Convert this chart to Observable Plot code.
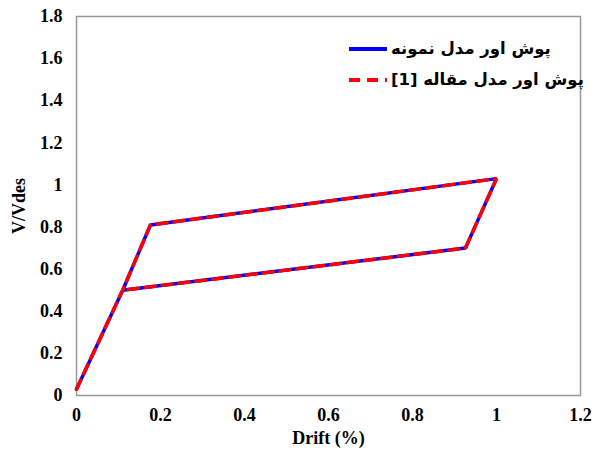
<!DOCTYPE html>
<html>
<head>
<meta charset="utf-8">
<script src="https://cdn.jsdelivr.net/npm/d3@7"></script>
<script src="https://cdn.jsdelivr.net/npm/@observablehq/plot@0.6"></script>
<style>
  html, body { margin: 0; padding: 0; background: #fff; }
  #wrap { position: relative; width: 600px; height: 455px; }
  #legend { position: absolute; left: 348px; top: 33px; font-family: "DejaVu Sans", sans-serif; font-weight: bold; font-size: 16.5px; color: #000; }
  #legend .row { display: flex; align-items: center; height: 31px; }
  #legend svg { margin-right: 3px; }
</style>
</head>
<body>
<div id="wrap"><div id="legend"></div></div>
<script>
const seriesNames = ["پوش اور مدل نمونه", "پوش اور مدل مقاله [1]"];
const seriesColors = ["#0000FF", "#FF0000"];
const driftValues = [0, 0.11, 0.176, 1.0, 0.926, 0.11];
const vRatioValues = [0.03, 0.50, 0.81, 1.03, 0.70, 0.50];
const xTicks = [0, 0.2, 0.4, 0.6, 0.8, 1, 1.2];
const yTicks = [0, 0.2, 0.4, 0.6, 0.8, 1, 1.2, 1.4, 1.6, 1.8];

const pts = driftValues.map((d, i) => ({x: d, y: vRatioValues[i]}));
const fmt = d => String(+d.toFixed(1));

const chart = Plot.plot({
  width: 600,
  height: 455,
  marginLeft: 76,
  marginRight: 20,
  marginTop: 16,
  marginBottom: 60,
  style: {fontFamily: "Liberation Serif", fontWeight: "bold", fontSize: "18px", color: "#000"},
  x: {domain: [0, 1.2], ticks: xTicks, tickFormat: fmt, tickSize: 0, tickPadding: 13, label: "Drift (%)", labelAnchor: "center", labelArrow: "none", labelOffset: 48},
  y: {domain: [0, 1.8], ticks: yTicks, tickFormat: fmt, tickSize: 0, tickPadding: 14, label: "V/Vdes", labelAnchor: "center", labelArrow: "none", labelOffset: 64},
  marks: [
    Plot.frame({stroke: "#999", strokeWidth: 1.5}),
    Plot.line(pts, {x: "x", y: "y", stroke: seriesColors[0], strokeWidth: 3.5, strokeLinejoin: "miter"}),
    Plot.line(pts, {x: "x", y: "y", stroke: seriesColors[1], strokeWidth: 3.5, strokeDasharray: "10,7", strokeLinejoin: "miter"})
  ]
});
const wrap = document.getElementById("wrap");
wrap.insertBefore(chart, wrap.firstChild);

const legend = document.getElementById("legend");
seriesNames.forEach((name, i) => {
  const row = document.createElement("div");
  row.className = "row";
  const dash = i === 1 ? 'stroke-dasharray="11,7"' : '';
  row.innerHTML = `<svg width="40" height="8"><line x1="1" y1="4" x2="39" y2="4" stroke="${seriesColors[i]}" stroke-width="4" ${dash}/></svg><span dir="rtl">${name}</span>`;
  legend.appendChild(row);
});
</script>
</body>
</html>
